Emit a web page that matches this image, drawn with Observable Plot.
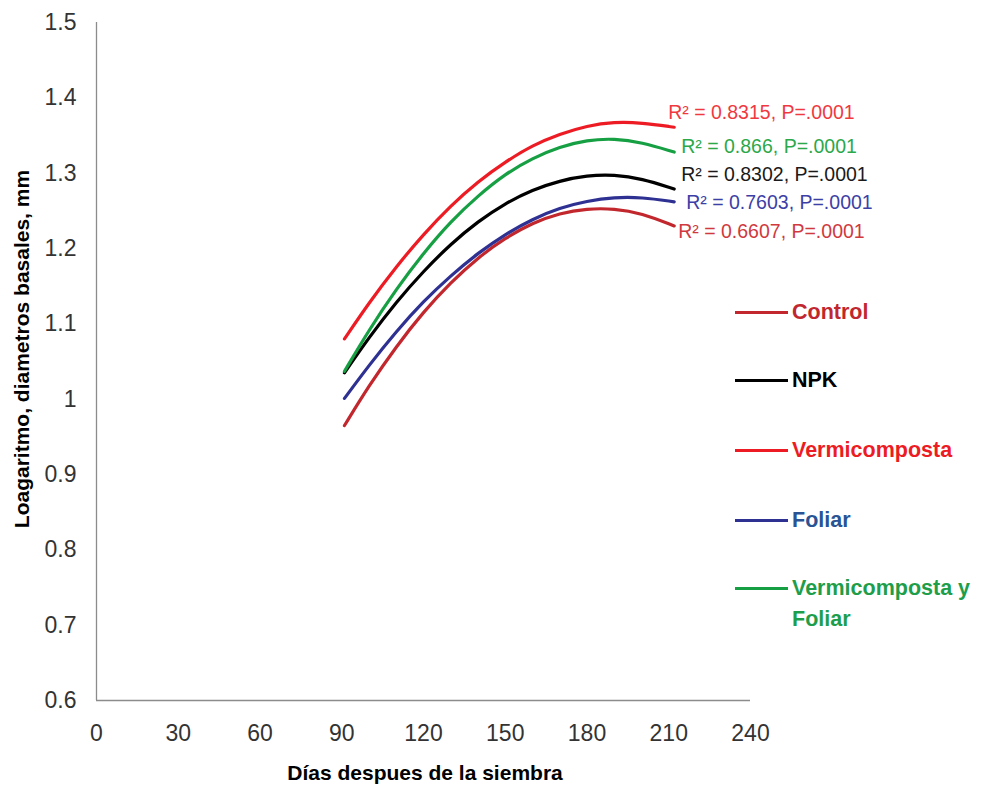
<!DOCTYPE html>
<html><head><meta charset="utf-8">
<script src="https://cdn.jsdelivr.net/npm/d3@7"></script>
<script src="https://cdn.jsdelivr.net/npm/@observablehq/plot@0.6"></script>
<style>
body{margin:0;background:#fff;}
#wrap{position:relative;width:985px;height:787px;overflow:hidden;font-family:"Liberation Sans",Arial,sans-serif;}
#wrap svg{position:absolute;left:0;top:0;overflow:visible;}
.ttl{position:absolute;font-weight:bold;font-size:21px;color:#000;white-space:nowrap;text-align:center;}
.leg-line{position:absolute;height:3px;width:53px;left:735px;}
.leg-txt{position:absolute;left:792px;font-weight:bold;font-size:21.5px;line-height:31px;white-space:nowrap;}
</style></head><body><div id="wrap"></div>
<script>
// ---- data ----
const days = [91,100,110,120,130,140,150,160,170,180,190,200,212];
const control       = [0.965,1.018,1.070,1.116,1.155,1.188,1.214,1.234,1.247,1.253,1.253,1.247,1.230];
const npk           = [1.035,1.082,1.129,1.170,1.206,1.236,1.260,1.278,1.290,1.297,1.298,1.293,1.279];
const vermicomposta = [1.080,1.128,1.176,1.219,1.257,1.289,1.315,1.337,1.352,1.363,1.368,1.367,1.361];
const foliar        = [1.001,1.045,1.090,1.130,1.164,1.194,1.219,1.239,1.254,1.263,1.268,1.268,1.262];
const vermiFoliar   = [1.037,1.092,1.146,1.194,1.236,1.270,1.299,1.320,1.335,1.344,1.346,1.341,1.328];
const seriesNames = ["Control","NPK","Vermicomposta","Foliar","Vermicomposta y Foliar"];
const r2Labels = ["R\u00B2 = 0.6607, P=.0001","R\u00B2 = 0.8302, P=.0001","R\u00B2 = 0.8315, P=.0001","R\u00B2 = 0.7603, P=.0001","R\u00B2 = 0.866, P=.0001"];
const xTicks = [0,30,60,90,120,150,180,210,240];
const yTicks = [0.6,0.7,0.8,0.9,1,1.1,1.2,1.3,1.4,1.5];
const xTitle = "Días despues de la siembra";
const yTitle = "Loagaritmo, diametros basales, mm";

// ---- styles ----
const lineColors = ["#C1272D","#000000","#ED1C24","#2E3192","#17A043"];
const labelColors = ["#D0393E","#1a1a1a","#F0393F","#3C40A6","#2BA84A"];
const legendTextColors = ["#C1272D","#000000","#ED1C24","#2A5394","#1E9E4A"];
const labelDx = [4,7,-6,12,7];
const labelDy = [6,-14,-14,1,-5];

const values = [control,npk,vermicomposta,foliar,vermiFoliar];
const rows = [];
seriesNames.forEach((s,i)=>days.forEach((d,j)=>rows.push({series:s,idx:i,day:d,value:values[i][j]})));
const ends = seriesNames.map((s,i)=>({series:s,idx:i,day:days[days.length-1],value:values[i][values[i].length-1],label:r2Labels[i]}));

const marks = [
  Plot.ruleX([0],{stroke:"#8c8c8c",strokeWidth:1.3}),
  Plot.ruleY([0.6],{stroke:"#8c8c8c",strokeWidth:1.3}),
  Plot.axisY({ticks:yTicks,tickSize:0,tickPadding:20,tickFormat:d3.format("~g"),label:null,fontSize:23,fill:"#333",fontFamily:"Liberation Sans"}),
  Plot.axisX({ticks:xTicks,tickSize:0,tickPadding:24,tickFormat:d3.format("d"),label:null,fontSize:23,fill:"#333",fontFamily:"Liberation Sans"}),
  Plot.line(rows,{x:"day",y:"value",z:"series",stroke:d=>lineColors[d.idx],strokeWidth:3.2,curve:"basis"})
];
ends.forEach((e,i)=>{
  marks.push(Plot.text([e],{x:"day",y:"value",text:"label",fill:labelColors[i],textAnchor:"start",lineAnchor:"middle",dx:labelDx[i],dy:labelDy[i],fontSize:19.5,fontFamily:"Liberation Sans"}));
});

const chart = Plot.plot({
  width:985,height:787,
  marginLeft:96,marginRight:235,marginTop:22,marginBottom:87,
  style:{background:"#fff",overflow:"visible"},
  x:{domain:[0,240]},
  y:{domain:[0.6,1.5]},
  marks
});
const wrap = document.getElementById("wrap");
wrap.appendChild(chart);

// axis titles
const xt = document.createElement("div");
xt.className="ttl"; xt.textContent=xTitle;
xt.style.cssText += "left:225px;width:400px;top:760px;line-height:26px;";
wrap.appendChild(xt);
const yt = document.createElement("div");
yt.className="ttl"; yt.textContent=yTitle;
yt.style.cssText += "left:-178px;width:400px;top:336px;line-height:26px;transform:rotate(-90deg);";
wrap.appendChild(yt);

// legend
const legendY = [312,380,450,520,588];
seriesNames.forEach((s,i)=>{
  const ln=document.createElement("div"); ln.className="leg-line";
  ln.style.top=(legendY[i]-1.5)+"px"; ln.style.background=lineColors[i];
  wrap.appendChild(ln);
  const tx=document.createElement("div"); tx.className="leg-txt";
  tx.style.top=(legendY[i]-15.5)+"px"; tx.style.color=legendTextColors[i];
  if(s==="Vermicomposta y Foliar"){ tx.innerHTML="Vermicomposta y<br>Foliar"; }
  else tx.textContent=s;
  wrap.appendChild(tx);
});
</script></body></html>
